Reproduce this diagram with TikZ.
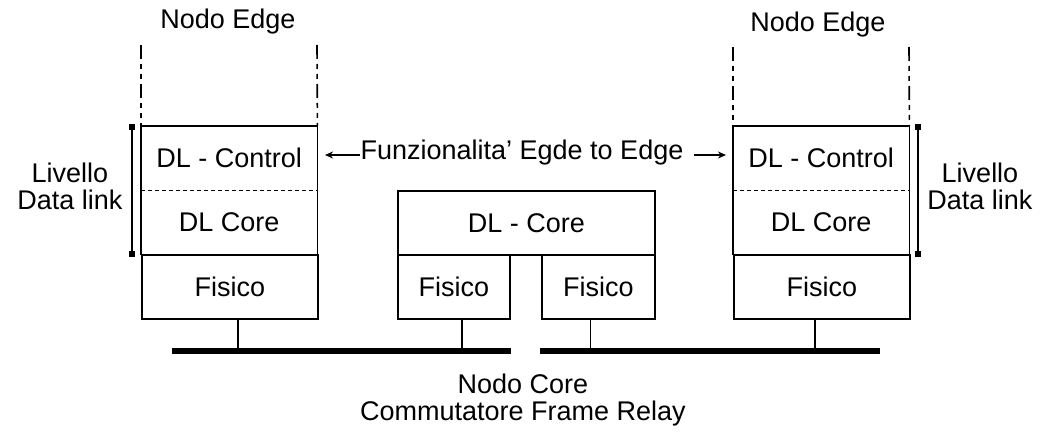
\documentclass[tikz,border=0pt]{standalone}
\usepackage{fontspec}
\setmainfont{Liberation Sans}
\usetikzlibrary{arrows.meta}
\begin{document}
\begin{tikzpicture}[x=1pt,y=-1pt,
  lay/.style={inner sep=0pt,anchor=north west,font=\fontsize{27}{29}\selectfont},
  layerbox/.style={lay,draw,line width=1.6pt},
  txt/.style={inner sep=0pt,font=\fontsize{27}{27}\selectfont,align=center},
  dashdot/.style={line width=1.6pt,dash pattern=on 14pt off 5pt on 5pt off 5pt on 5pt off 5pt},
  bus/.style={line width=6pt},
  bar/.style={line width=2pt},
  endmark/.style={fill=black,inner sep=0pt,minimum size=6pt},
  arr/.style={line width=1.6pt,-{Stealth[length=8pt,width=7pt]}},
  wire/.style={line width=1.6pt}]
\useasboundingbox (0,0) rectangle (1045,433);
% left edge node
\node[lay,minimum width=176pt,minimum height=64pt] (ctrlL) at (141,126) {DL - Control};
\node[lay,minimum width=176pt,minimum height=64pt] (coreL) at (141,190) {DL Core};
\node[layerbox,minimum width=176pt,minimum height=64pt] (fisL) at (141,254) {Fisico};
\draw[wire] (ctrlL.north west) rectangle (coreL.south east);
\draw[wire,dash pattern=on 4pt off 3pt] (ctrlL.south west) -- (ctrlL.south east);
% right edge node
\node[lay,minimum width=176pt,minimum height=64pt] (ctrlR) at (733,126) {DL - Control};
\node[lay,minimum width=176pt,minimum height=64pt] (coreR) at (733,190) {DL Core};
\node[layerbox,minimum width=176pt,minimum height=64pt] (fisR) at (733,254) {Fisico};
\draw[wire] (ctrlR.north west) rectangle (coreR.south east);
\draw[wire,dash pattern=on 4pt off 3pt] (ctrlR.south west) -- (ctrlR.south east);
% core node
\node[layerbox,minimum width=257pt,minimum height=64pt] (coreC) at (397,190) {DL - Core};
\node[layerbox,minimum width=112pt,minimum height=64pt] (fisC1) at (397,254) {Fisico};
\node[layerbox,minimum width=113pt,minimum height=64pt] (fisC2) at (541,254) {Fisico};
% dash-dot verticals
\coordinate (tL1) at (141,45);
\coordinate (tL2) at (317,45);
\coordinate (tR1) at (733,47);
\coordinate (tR2) at (909,47);
\draw[dashdot] (tL1) -- (ctrlL.north west);
\draw[dashdot] (tL2) -- (ctrlL.north east);
\draw[dashdot] (tR1) -- (ctrlR.north west);
\draw[dashdot] (tR2) -- (ctrlR.north east);
\node[txt] (neL) at (228,22) {Nodo Edge};
\node[txt] (neR) at (818,25) {Nodo Edge};
% data link bars
\node[endmark] (mLt) at (132,127) {};
\node[endmark] (mLb) at (132,254) {};
\draw[bar] (mLt) -- (mLb);
\node[endmark] (mRt) at (918,127) {};
\node[endmark] (mRb) at (918,254) {};
\draw[bar] (mRt) -- (mRb);
\node[txt] (dlL) at (70,186) {Livello\\Data link};
\node[txt] (dlR) at (980,186) {Livello\\Data link};
% funzionalita
\node[txt] (fun) at (522,153) {Funzionalita' Egde to Edge};
\coordinate (aL) at (325,155);
\coordinate (aR) at (726,155);
\draw[arr] (fun.west |- aL) -- (aL);
\draw[arr] ([xshift=10pt]fun.east |- aR) -- (aR);
% buses
\coordinate (b1) at (172,351);
\coordinate (b2) at (511,351);
\coordinate (b3) at (540,351);
\coordinate (b4) at (880,351);
\draw[bus] (b1) -- (b2);
\draw[bus] (b3) -- (b4);
\draw[wire] ([xshift=8pt]fisL.south) -- ([xshift=8pt]fisL.south |- b1);
\draw[wire] ([xshift=8pt]fisC1.south) -- ([xshift=8pt]fisC1.south |- b1);
\draw[wire] ([xshift=-8pt]fisC2.south) -- ([xshift=-8pt]fisC2.south |- b1);
\draw[wire] ([xshift=-7pt]fisR.south) -- ([xshift=-7pt]fisR.south |- b1);
\node[txt] (nc) at (523,400) {Nodo Core\\Commutatore Frame Relay};
\end{tikzpicture}
\end{document}
